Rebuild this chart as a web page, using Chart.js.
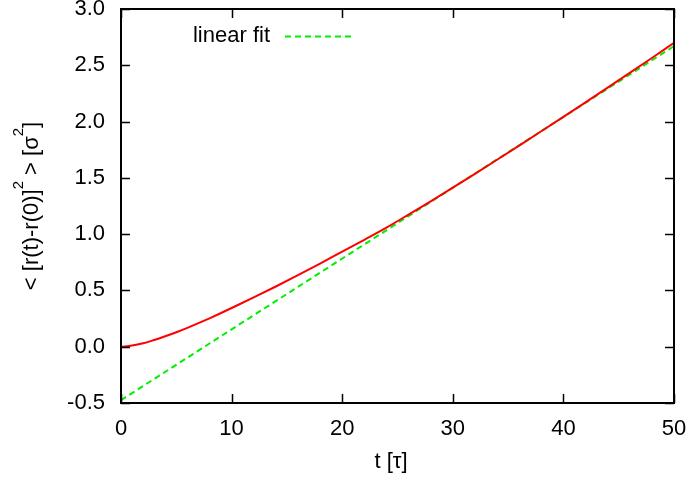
<!DOCTYPE html>
<html>
<head>
<meta charset="utf-8">
<script src="https://cdn.jsdelivr.net/npm/chart.js@4/dist/chart.umd.min.js"></script>
<style>
  html, body { margin: 0; padding: 0; background: #fff; }
  #wrap { width: 689px; height: 478px; }
</style>
</head>
<body>
<div id="wrap"><canvas id="msdChart" width="689" height="478"></canvas></div>
<script>
// mean square displacement
const times = [0, 1, 2, 3, 4, 5, 6, 7, 8, 9, 10, 12, 14, 16, 18, 20, 22, 24, 26, 28, 30, 32, 34, 36, 38, 40, 42, 44, 46, 48, 50];
const msd = [0.0, 0.01, 0.03, 0.06, 0.093, 0.129, 0.168, 0.209, 0.252, 0.297, 0.344, 0.438, 0.535, 0.635, 0.738, 0.845, 0.95, 1.058, 1.174, 1.292, 1.413, 1.536, 1.661, 1.787, 1.914, 2.042, 2.171, 2.301, 2.432, 2.565, 2.70];

// linear fit end points
const fitTimes = [0, 50];
const fitValues = [-0.475, 2.67];

const xTicks = [0, 10, 20, 30, 40, 50];
const yTicks = [-0.5, 0.0, 0.5, 1.0, 1.5, 2.0, 2.5, 3.0];

const FONT = '"Liberation Sans", Arial, sans-serif';
const FONT_SIZE = 22;

const gnuplotFrame = {
  id: 'gnuplotFrame',
  afterDraw(chart) {
    const ctx = chart.ctx;
    const area = chart.chartArea;
    const xs = chart.scales.x;
    const ys = chart.scales.y;
    const tick = 9;

    ctx.save();
    ctx.strokeStyle = '#000';
    ctx.lineWidth = 1.5;
    ctx.beginPath();
    xTicks.forEach(v => {
      const px = Math.round(xs.getPixelForValue(v)) + 0.5;
      ctx.moveTo(px, area.bottom); ctx.lineTo(px, area.bottom - tick);
      ctx.moveTo(px, area.top); ctx.lineTo(px, area.top + tick);
    });
    yTicks.forEach(v => {
      const py = Math.round(ys.getPixelForValue(v)) + 0.5;
      ctx.moveTo(area.left, py); ctx.lineTo(area.left + tick, py);
      ctx.moveTo(area.right, py); ctx.lineTo(area.right - tick, py);
    });
    ctx.stroke();

    ctx.lineWidth = 2;
    ctx.strokeRect(area.left, area.top, area.right - area.left, area.bottom - area.top);

    // key: text then sample, gnuplot style
    const fit = chart.data.datasets[1];
    ctx.font = FONT_SIZE + 'px ' + FONT;
    ctx.fillStyle = '#000';
    ctx.textAlign = 'right';
    ctx.textBaseline = 'middle';
    ctx.fillText(fit.label, 270, 36);
    ctx.strokeStyle = fit.borderColor;
    ctx.lineWidth = fit.borderWidth;
    ctx.setLineDash(fit.borderDash);
    ctx.beginPath();
    ctx.moveTo(285, 36.5); ctx.lineTo(352, 36.5);
    ctx.stroke();
    ctx.setLineDash([]);

    // x title
    ctx.textAlign = 'center';
    ctx.fillText('t [τ]', 391, 462);

    // y title with superscripts
    const parts = [
      { t: '< [r(t)-r(0)]', sup: false },
      { t: '2', sup: true },
      { t: ' > [σ', sup: false },
      { t: '2', sup: true },
      { t: ']', sup: false }
    ];
    const supSize = 15;
    let total = 0;
    parts.forEach(p => {
      ctx.font = (p.sup ? supSize : FONT_SIZE) + 'px ' + FONT;
      p.w = ctx.measureText(p.t).width;
      total += p.w;
    });
    ctx.translate(32, (area.top + area.bottom) / 2);
    ctx.rotate(-Math.PI / 2);
    ctx.textAlign = 'left';
    let x = -total / 2;
    parts.forEach(p => {
      ctx.font = (p.sup ? supSize : FONT_SIZE) + 'px ' + FONT;
      ctx.fillText(p.t, x, p.sup ? -13 : 0);
      x += p.w;
    });
    ctx.restore();
  }
};

new Chart(document.getElementById('msdChart'), {
  type: 'line',
  data: {
    datasets: [
      {
        label: 'msd',
        data: times.map((t, i) => ({ x: t, y: msd[i] })),
        borderColor: '#ff0000',
        borderWidth: 2,
        pointRadius: 0,
        fill: false,
        cubicInterpolationMode: 'monotone'
      },
      {
        label: 'linear fit',
        data: fitTimes.map((t, i) => ({ x: t, y: fitValues[i] })),
        borderColor: '#00ee00',
        borderWidth: 2,
        borderDash: [6, 4],
        pointRadius: 0,
        fill: false
      }
    ]
  },
  options: {
    responsive: false,
    animation: false,
    devicePixelRatio: 1,
    layout: { padding: { top: 9, right: 15, left: 0, bottom: 0 } },
    plugins: {
      legend: { display: false },
      tooltip: { enabled: false }
    },
    scales: {
      x: {
        type: 'linear',
        min: 0,
        max: 50,
        grid: { display: false, drawTicks: false },
        border: { display: false },
        ticks: {
          stepSize: 10,
          padding: 13,
          color: '#000',
          maxRotation: 0,
          font: { family: FONT, size: FONT_SIZE }
        },
        afterFit: s => { s.height = 75; s.paddingLeft = 0; s.paddingRight = 0; }
      },
      y: {
        type: 'linear',
        min: -0.5,
        max: 3.0,
        grid: { display: false, drawTicks: false },
        border: { display: false },
        ticks: {
          stepSize: 0.5,
          padding: 16,
          color: '#000',
          font: { family: FONT, size: FONT_SIZE },
          callback: v => v.toFixed(1)
        },
        afterFit: s => { s.width = 121; s.paddingTop = 0; s.paddingBottom = 0; }
      }
    }
  },
  plugins: [gnuplotFrame]
});
</script>
</body>
</html>
